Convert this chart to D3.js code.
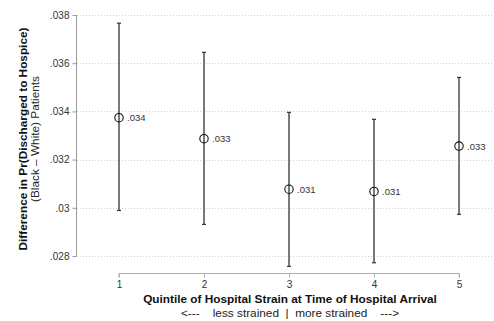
<!DOCTYPE html>
<html>
<head>
<meta charset="utf-8">
<script src="https://cdn.jsdelivr.net/npm/d3@7"></script>
<style>
body { margin: 0; background: #fff; }
text { font-family: "Liberation Sans", Arial, sans-serif; }
</style>
</head>
<body>
<script>
// quintile estimates
var quintiles = [1, 2, 3, 4, 5]
var estimates = [0.03374, 0.03287, 0.03077, 0.03068, 0.03256]
var lower = [0.02989, 0.02931, 0.02757, 0.02772, 0.02973]
var upper = [0.03766, 0.03645, 0.03396, 0.03367, 0.03541]
var pointLabels = ['.034', '.033', '.031', '.031', '.033']
var yTicks = [0.028, 0.03, 0.032, 0.034, 0.036, 0.038]
var yTickLabels = ['.028', '.03', '.032', '.034', '.036', '.038']

var width = 494
var height = 321
var sp = '\u00a0'

var svg = d3.select('body')
            .append('svg')
            .attr('width', width)
            .attr('height', height);

var x = d3.scaleLinear().domain([1, 5]).range([119, 459])
var y = d3.scaleLinear().domain([0.028, 0.038]).range([256, 15])

// dotted grid
svg.append('g')
   .selectAll('line')
   .data(yTicks)
   .enter().append('line')
   .attr('x1', 77)
   .attr('x2', width)
   .attr('y1', function(d){ return Math.round(y(d)) + 0.5; })
   .attr('y2', function(d){ return Math.round(y(d)) + 0.5; })
   .attr('stroke', '#cfcfcf')
   .attr('stroke-width', 1)
   .attr('stroke-dasharray', '1,2')

// y axis
var yAxis = d3.axisLeft(y)
              .tickValues(yTicks)
              .tickFormat(function(d, i){ return yTickLabels[i]; })
              .tickSize(4)
              .tickPadding(3)
var gy = svg.append('g')
            .attr('transform', 'translate(76.5,0)')
            .call(yAxis)
gy.select('.domain').attr('stroke', '#9a9a9a').attr('d', 'M0,' + y(0.038) + 'V' + y(0.028))
gy.selectAll('.tick line').attr('stroke', '#9a9a9a')
gy.selectAll('.tick text')
  .attr('fill', '#333')
  .attr('font-size', '10px')
  .attr('font-family', '"Liberation Sans", Arial, sans-serif')

// x axis
var xAxis = d3.axisBottom(x)
              .tickValues(quintiles)
              .tickFormat(d3.format('d'))
              .tickSize(4)
              .tickPadding(3)
var gx = svg.append('g')
            .attr('transform', 'translate(0,273.5)')
            .call(xAxis)
gx.select('.domain').attr('stroke', '#b0b0b0').attr('d', 'M' + x(1) + ',4V0H' + x(5) + 'V4')
gx.selectAll('.tick line').attr('stroke', '#b0b0b0')
gx.selectAll('.tick text')
  .attr('fill', '#333')
  .attr('font-size', '10px')
  .attr('font-family', '"Liberation Sans", Arial, sans-serif')

// error bars
var bars = svg.append('g')
quintiles.forEach(function(q, i){
    var cx = x(q)
    bars.append('line')
        .attr('x1', cx).attr('x2', cx)
        .attr('y1', y(lower[i])).attr('y2', y(upper[i]))
        .attr('stroke', '#595959')
        .attr('stroke-width', 1.6)
    bars.append('line')
        .attr('x1', cx - 2).attr('x2', cx + 2)
        .attr('y1', y(upper[i])).attr('y2', y(upper[i]))
        .attr('stroke', '#333')
        .attr('stroke-width', 1.2)
    bars.append('line')
        .attr('x1', cx - 2).attr('x2', cx + 2)
        .attr('y1', y(lower[i])).attr('y2', y(lower[i]))
        .attr('stroke', '#333')
        .attr('stroke-width', 1.2)
})

// points
var pts = svg.selectAll('g.pt')
             .data(estimates)
             .enter().append('g')
             .attr('class', 'pt')
pts.append('circle')
   .attr('cx', function(d, i){ return x(quintiles[i]); })
   .attr('cy', function(d){ return y(d); })
   .attr('r', 4.2)
   .attr('fill', 'none')
   .attr('stroke', '#111')
   .attr('stroke-width', 1.1)
pts.append('text')
   .attr('x', function(d, i){ return x(quintiles[i]) + 8; })
   .attr('y', function(d){ return y(d) + 3.5; })
   .attr('font-size', '9.5px')
   .attr('fill', '#333')
   .text(function(d, i){ return pointLabels[i]; })

// axis titles
var yTitle = svg.append('g')
                .attr('transform', 'translate(27,139) rotate(-90)')
yTitle.append('text')
      .attr('text-anchor', 'middle')
      .attr('font-size', '11.8px')
      .attr('font-weight', 'bold')
      .attr('fill', '#111')
      .text('Difference in Pr(Discharged to Hospice)')
yTitle.append('text')
      .attr('y', 12)
      .attr('text-anchor', 'middle')
      .attr('font-size', '11.8px')
      .attr('fill', '#222')
      .text('(Black \u2013 White) Patients')

svg.append('text')
   .attr('x', 290)
   .attr('y', 303)
   .attr('text-anchor', 'middle')
   .attr('font-size', '11.8px')
   .attr('font-weight', 'bold')
   .attr('fill', '#111')
   .text('Quintile of Hospital Strain at Time of Hospital Arrival')
svg.append('text')
   .attr('x', 290)
   .attr('y', 317)
   .attr('text-anchor', 'middle')
   .attr('font-size', '11.8px')
   .attr('fill', '#222')
   .text('<---' + sp.repeat(4) + 'less strained' + sp.repeat(2) + '|' + sp.repeat(2) + 'more strained' + sp.repeat(4) + '--->')
</script>
</body>
</html>
